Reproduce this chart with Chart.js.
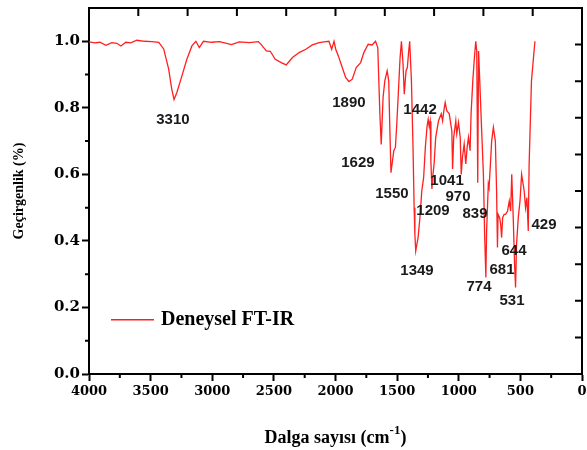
<!DOCTYPE html>
<html>
<head>
<meta charset="utf-8">
<script src="https://cdn.jsdelivr.net/npm/chart.js@4"></script>
<style>
  body { margin: 0; background: #fff; }
  #wrap { width: 587px; height: 450px; }
</style>
</head>
<body>
<div id="wrap"><canvas id="ftir"></canvas></div>
<script>
// spectrum (cm-1 -> transmittance)
var wavenumber = [4000,3952,3911,3863,3814,3774,3741,3701,3661,3612,3548,3491,3434,3394,3354,3329,3310,3287,3246,3206,
  3165,3133,3105,3071,3006,2941,2844,2780,2699,2626,2602,2562,2529,2489,2440,2400,2349,2295,2241,2188,
  2133,2079,2053,2031,2012,1998,1977,1945,1918,1891,1864,1832,1796,1770,1735,1703,1675,1657,1640,1629,
  1614,1600,1581,1568,1560,1550,1527,1514,1503,1492,1476,1465,1452,1442,1428,1417,1406,1398,1384,1371,
  1362,1356,1349,1342,1330,1315,1300,1285,1271,1258,1248,1240,1232,1226,1218,1209,1200,1187,1164,1142,
  1131,1121,1110,1097,1077,1056,1050,1041,1024,1016,1002,988,980,970,956,943,932,921,908,900,
  886,873,862,854,846,839,814,800,790,780,774,760,754,743,733,719,703,693,686,681,
  668,660,652,644,632,620,604,590,579,570,558,547,539,531,517,503,490,469,458,447,
  436,429,410,382,360];
var transmittance = [0.998,0.995,0.997,0.988,0.996,0.994,0.986,0.997,0.995,1.003,1.0,0.999,0.997,0.977,0.917,0.857,0.825,0.846,0.896,0.946,
  0.986,1.0,0.981,1.0,0.997,0.999,0.99,0.998,0.996,0.999,0.99,0.971,0.97,0.946,0.936,0.929,0.951,0.966,0.976,0.989,
  0.996,0.999,1.0,0.976,1.0,0.976,0.956,0.921,0.891,0.879,0.886,0.921,0.936,0.966,0.991,0.989,1.0,0.981,0.782,0.69,
  0.831,0.881,0.911,0.881,0.75,0.605,0.671,0.681,0.75,0.831,0.951,1.0,0.931,0.841,0.911,0.921,0.971,1.0,0.881,0.681,
  0.50,0.42,0.37,0.385,0.41,0.47,0.55,0.59,0.681,0.741,0.765,0.745,0.76,0.64,0.556,0.60,0.631,0.711,0.761,0.782,
  0.761,0.791,0.816,0.791,0.782,0.73,0.616,0.711,0.761,0.722,0.756,0.711,0.60,0.651,0.691,0.631,0.681,0.711,0.671,0.782,
  0.881,0.951,1.0,0.971,0.575,0.971,0.731,0.60,0.42,0.29,0.43,0.571,0.56,0.631,0.70,0.741,0.70,0.55,0.38,
  0.48,0.47,0.45,0.41,0.47,0.48,0.48,0.49,0.52,0.49,0.60,0.47,0.33,0.26,0.39,0.47,0.52,0.60,0.55,0.50,
  0.53,0.43,0.63,0.881,1.0];

// peak annotations: text and where it sits (data units)
var peakText = ['3310','1890','1442','1629','1041','1550','970','1209','839','429','644','1349','681','774','531'];
var peakX    = [3319, 1891, 1314, 1818, 1095, 1542, 1006, 1209, 868, 308, 552, 1339, 649, 836, 568];
var peakY    = [0.764,0.815,0.794,0.635,0.580,0.541,0.532,0.490,0.481,0.448,0.370,0.310,0.313,0.262,0.220];

var xTicks = [0, 500, 1000, 1500, 2000, 2500, 3000, 3500, 4000];

var points = wavenumber.map(function (w, i) { return { x: w, y: transmittance[i] }; });

var serif = 'Liberation Serif, Times New Roman, serif';
var wideSerif = 'DejaVu Serif, serif';

var framePlugin = {
  id: 'frame',
  afterDraw: function (chart) {
    var ctx = chart.ctx, a = chart.chartArea;
    var xs = chart.scales.x, ys = chart.scales.y;
    ctx.save();
    ctx.strokeStyle = '#000';
    ctx.lineWidth = 2;
    ctx.beginPath();
    ctx.moveTo(a.left, a.top); ctx.lineTo(a.right, a.top); ctx.lineTo(a.right, a.bottom);
    ctx.stroke();

    // inward ticks on top and right, ten divisions each
    ctx.beginPath();
    for (var i = 1; i < 10; i++) {
      var tx = a.left + i * (a.right - a.left) / 10;
      ctx.moveTo(tx, a.top); ctx.lineTo(tx, a.top + 8);
      var ty = a.top + i * (a.bottom - a.top) / 10;
      ctx.moveTo(a.right, ty); ctx.lineTo(a.right - 7, ty);
    }
    ctx.stroke();

    // minor ticks
    ctx.beginPath();
    for (var v = 250; v < 4000; v += 500) {
      var px = xs.getPixelForValue(v);
      ctx.moveTo(px, a.bottom); ctx.lineTo(px, a.bottom + 4);
    }
    for (var k = 1; k < 11; k += 2) {
      var py = ys.getPixelForValue(k / 10);
      ctx.moveTo(a.left, py); ctx.lineTo(a.left - 4, py);
    }
    ctx.stroke();

    // peak labels
    ctx.fillStyle = '#1a1a1a';
    ctx.font = 'bold 15px "Liberation Sans", Arial, sans-serif';
    ctx.textAlign = 'center';
    ctx.textBaseline = 'middle';
    peakText.forEach(function (t, i) {
      ctx.fillText(t, xs.getPixelForValue(peakX[i]), ys.getPixelForValue(peakY[i]));
    });

    // legend inside the plot
    var ds = chart.data.datasets[0];
    var ly = ys.getPixelForValue(0.163);
    ctx.strokeStyle = ds.borderColor;
    ctx.lineWidth = 1.5;
    ctx.beginPath();
    ctx.moveTo(a.left + 22, ly); ctx.lineTo(a.left + 65, ly);
    ctx.stroke();
    ctx.fillStyle = '#000';
    ctx.textAlign = 'left';
    ctx.font = 'bold 20px ' + serif;
    ctx.fillText(ds.label, a.left + 72, ly);

    // x title with superscript
    var main = 'Dalga sayısı (cm', sup = '-1', end = ')';
    ctx.font = 'bold 18px ' + serif;
    var w1 = ctx.measureText(main).width, w3 = ctx.measureText(end).width;
    ctx.font = 'bold 13px ' + serif;
    var w2 = ctx.measureText(sup).width;
    var x0 = (a.left + a.right) / 2 - (w1 + w2 + w3) / 2;
    var base = 443;
    ctx.textBaseline = 'alphabetic';
    ctx.font = 'bold 18px ' + serif;
    ctx.fillText(main, x0, base);
    ctx.fillText(end, x0 + w1 + w2, base);
    ctx.font = 'bold 13px ' + serif;
    ctx.fillText(sup, x0 + w1, base - 9);
    ctx.restore();
  }
};

new Chart(document.getElementById('ftir'), {
  type: 'line',
  data: {
    datasets: [{
      label: 'Deneysel FT-IR',
      data: points,
      borderColor: '#ff1f1f',
      borderWidth: 1.3,
      pointRadius: 0,
      tension: 0,
      fill: false
    }]
  },
  options: {
    responsive: true,
    maintainAspectRatio: false,
    animation: false,
    layout: { padding: { top: 8, right: 5, left: 0, bottom: 0 } },
    plugins: { legend: { display: false }, tooltip: { enabled: false } },
    scales: {
      x: {
        type: 'linear',
        reverse: true,
        min: 0,
        max: 4000,
        afterBuildTicks: function (s) { s.ticks = xTicks.map(function (v) { return { value: v }; }); },
        afterFit: function (s) { s.height = 76; s.paddingLeft = 0; s.paddingRight = 0; },
        grid: { drawOnChartArea: false, tickLength: 7, tickWidth: 2, tickColor: '#000' },
        border: { color: '#000', width: 2 },
        ticks: {
          color: '#000',
          padding: 3,
          maxRotation: 0,
          font: { family: wideSerif, size: 13, weight: 'bold' },
          callback: function (v) { return String(v); }
        }
      },
      y: {
        min: 0,
        max: 1.1,
        afterFit: function (s) { s.width = 89; s.paddingTop = 0; s.paddingBottom = 0; },
        grid: { drawOnChartArea: false, tickLength: 7, tickWidth: 2, tickColor: '#000' },
        border: { color: '#000', width: 2 },
        ticks: {
          stepSize: 0.2,
          includeBounds: false,
          color: '#000',
          padding: 2,
          font: { family: wideSerif, size: 15, weight: 'bold' },
          callback: function (v) { return v.toFixed(1); }
        },
        title: {
          display: true,
          text: 'Geçirgenlik (%)',
          color: '#000',
          padding: { top: 11, bottom: 0 },
          font: { family: serif, size: 14, weight: 'bold' }
        }
      }
    }
  },
  plugins: [framePlugin]
});
</script>
</body>
</html>
